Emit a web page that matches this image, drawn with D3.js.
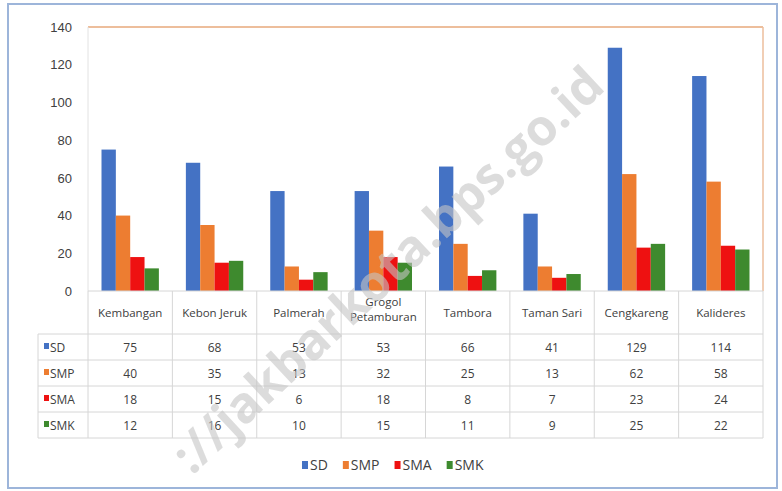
<!DOCTYPE html>
<html>
<head>
<meta charset="utf-8">
<script src="https://cdn.jsdelivr.net/npm/d3@7"></script>
<style>
  html, body { margin: 0; padding: 0; background: #ffffff; }
  svg { display: block; font-family: "Open Sans", "Liberation Sans", sans-serif; }
</style>
</head>
<body>
<svg id="chart" width="782" height="491"></svg>
<script>
const categories = ["Kembangan", "Kebon Jeruk", "Palmerah", "Grogol Petamburan", "Tambora", "Taman Sari", "Cengkareng", "Kalideres"];
const seriesNames = ["SD", "SMP", "SMA", "SMK"];
const sdValues  = [75, 68, 53, 53, 66, 41, 129, 114];
const smpValues = [40, 35, 13, 32, 25, 13, 62, 58];
const smaValues = [18, 15, 6, 18, 8, 7, 23, 24];
const smkValues = [12, 16, 10, 15, 11, 9, 25, 22];
const yTicks = [0, 20, 40, 60, 80, 100, 120, 140];
const seriesColors = ["#4472C4", "#ED7D31", "#EE1111", "#3E8A2E"];
const watermark = "://jakbarkota.bps.go.id";

const seriesValues = [sdValues, smpValues, smaValues, smkValues];

const svg = d3.select("#chart");

// outer frame
svg.append("rect").attr("x", 8).attr("y", 4).attr("width", 769).attr("height", 484)
  .attr("fill", "#fff").attr("stroke", "#9DB5DA").attr("stroke-width", 2);

const plotLeft = 88, plotRight = 763, plotTop = 27, plotBottom = 291;

const x0 = d3.scaleBand().domain(categories).range([plotLeft, plotRight]).padding(0);
const bw = x0.bandwidth();
const x1 = d3.scaleBand().domain(seriesNames).range([bw * 0.16, bw * 0.84]).padding(0);
const y = d3.scaleLinear().domain([0, 140]).range([plotBottom, plotTop]);

// plot border (top & right tan)
svg.append("line").attr("x1", plotLeft).attr("x2", plotRight).attr("y1", y(140)).attr("y2", y(140))
  .attr("stroke", "#EDBE9C").attr("stroke-width", 2);
svg.append("line").attr("x1", plotRight).attr("x2", plotRight).attr("y1", y(140)).attr("y2", y(0))
  .attr("stroke", "#EDBE9C").attr("stroke-width", 1.5);
svg.append("line").attr("x1", plotLeft).attr("x2", plotLeft).attr("y1", y(140)).attr("y2", y(0))
  .attr("stroke", "#e2e2e2").attr("stroke-width", 1);

// y axis
const yAxis = d3.axisLeft(y).tickValues(yTicks).tickSize(0).tickPadding(16);
const yg = svg.append("g").attr("transform", `translate(${plotLeft},0)`).call(yAxis);
yg.select(".domain").remove();
yg.selectAll("text").attr("font-size", 13).attr("fill", "#404040");

// bars
const groups = svg.append("g").selectAll("g").data(categories).join("g")
  .attr("transform", d => `translate(${x0(d)},0)`);
groups.selectAll("rect")
  .data((c, i) => seriesNames.map((s, k) => ({ s, k, v: seriesValues[k][i] })))
  .join("rect")
  .attr("x", d => x1(d.s))
  .attr("width", x1.bandwidth())
  .attr("y", d => y(d.v))
  .attr("height", d => y(0) - y(d.v))
  .attr("fill", d => seriesColors[d.k]);

// table
const gridColor = "#d6d6d6";
const tableLeft = 38;
const catRowBottom = 334;
const rowLines = [334, 360, 386, 412, 438];
const tbl = svg.append("g");
tbl.append("line").attr("x1", plotLeft).attr("x2", plotRight).attr("y1", y(0)).attr("y2", y(0))
  .attr("stroke", gridColor);
rowLines.forEach(ly => {
  tbl.append("line").attr("x1", tableLeft).attr("x2", plotRight).attr("y1", ly).attr("y2", ly)
    .attr("stroke", gridColor);
});
tbl.append("line").attr("x1", tableLeft).attr("x2", tableLeft).attr("y1", catRowBottom).attr("y2", 438)
  .attr("stroke", gridColor);
categories.concat(["_end"]).forEach((c, i) => {
  const xx = i < categories.length ? x0(c) : plotRight;
  tbl.append("line").attr("x1", xx).attr("x2", xx).attr("y1", y(0)).attr("y2", 438)
    .attr("stroke", gridColor);
});

// category labels
categories.forEach(c => {
  const cx = x0(c) + bw / 2;
  const words = c === "Grogol Petamburan" ? ["Grogol", "Petamburan"] : [c];
  const t = tbl.append("text").attr("x", cx).attr("text-anchor", "middle")
    .attr("font-size", 11.5).attr("fill", "#404040");
  if (words.length === 1) {
    t.attr("y", 317).text(c);
  } else {
    words.forEach((w, i) => t.append("tspan").attr("x", cx).attr("y", 306 + i * 15).text(w));
  }
});

// rows
seriesNames.forEach((s, k) => {
  const rowMid = (rowLines[k] + rowLines[k + 1]) / 2;
  tbl.append("rect").attr("x", 44).attr("y", rowMid - 4).attr("width", 5).attr("height", 6)
    .attr("fill", seriesColors[k]);
  tbl.append("text").attr("x", 50).attr("y", rowMid + 4.5).attr("font-size", 12)
    .attr("fill", "#404040").text(s);
  categories.forEach((c, i) => {
    tbl.append("text").attr("x", x0(c) + bw / 2).attr("y", rowMid + 4.5)
      .attr("text-anchor", "middle").attr("font-size", 12).attr("fill", "#404040")
      .text(seriesValues[k][i]);
  });
});

// legend
const legend = svg.append("g");
const legendY = 465;
let lx = 302;
seriesNames.forEach((s, k) => {
  legend.append("rect").attr("x", lx).attr("y", legendY - 4).attr("width", 6).attr("height", 8)
    .attr("fill", seriesColors[k]);
  const t = legend.append("text").attr("x", lx + 8).attr("y", legendY + 5)
    .attr("font-size", 14).attr("fill", "#404040").text(s);
  lx += 8 + t.node().getComputedTextLength() + 15;
});

// watermark
svg.append("text")
  .attr("transform", "translate(192,476) rotate(-43)")
  .attr("text-anchor", "start")
  .attr("font-size", 50).attr("font-weight", "bold")
  .attr("font-family", "Open Sans, sans-serif")
  .attr("fill", "#c4c4c4").attr("fill-opacity", 0.6)
  .text(watermark);
</script>
</body>
</html>
